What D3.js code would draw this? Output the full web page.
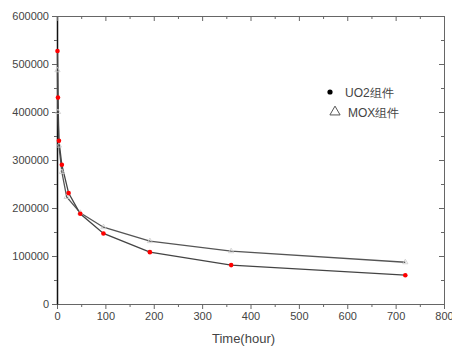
<!DOCTYPE html>
<html>
<head>
<meta charset="utf-8">
<script src="https://cdn.jsdelivr.net/npm/d3@7"></script>
<style>
  body { margin: 0; background: #fff; }
  svg text { font-family: "Liberation Sans", Arial, sans-serif; fill: #444; }
</style>
</head>
<body>
<div id="chart"></div>
<script>
// hours
var timesUO2 = [1, 2, 4, 10, 24, 48, 96, 192, 360, 720];
var valuesUO2 = [527000, 430000, 340000, 290000, 231000, 188000, 147000, 108000, 81000, 60000];
var timesMOX = [1, 2, 4, 10, 20, 48, 96, 192, 360, 720];
var valuesMOX = [487000, 400000, 330000, 275000, 223000, 190000, 160000, 131000, 110000, 87000];
var seriesNames = ["UO2组件", "MOX组件"];
var xTicks = [0, 100, 200, 300, 400, 500, 600, 700, 800];
var yTicks = [0, 100000, 200000, 300000, 400000, 500000, 600000];

var margin = {top: 16, right: 8, bottom: 46, left: 57},
    W = 452, H = 350,
    width = W - margin.left - margin.right,
    height = H - margin.top - margin.bottom;

var svg = d3.select("#chart").append("svg")
    .attr("width", W).attr("height", H)
  .append("g")
    .attr("transform", "translate(" + margin.left + "," + margin.top + ")");

var x = d3.scaleLinear().domain([0, 800]).range([0, width]);
var y = d3.scaleLinear().domain([0, 600000]).range([height, 0]);

var minorX = d3.range(50, 800, 100);
var minorY = d3.range(50000, 600000, 100000);
var fmt = d3.format("d");

function styleAxis(g) {
  g.select(".domain").attr("stroke", "#666");
  g.selectAll(".tick line").attr("stroke", "#666");
  g.selectAll("text").style("font-size", "11px").attr("fill", "#444");
}

// bottom
svg.append("g").attr("transform", "translate(0," + height + ")")
  .call(d3.axisBottom(x).tickValues(xTicks).tickFormat(fmt).tickSize(5).tickPadding(3).tickSizeOuter(0))
  .call(styleAxis);
svg.append("g").attr("transform", "translate(0," + height + ")")
  .call(d3.axisBottom(x).tickValues(minorX).tickSize(3).tickFormat(""))
  .call(styleAxis).select(".domain").remove();
// left
svg.append("g")
  .call(d3.axisLeft(y).tickValues(yTicks).tickFormat(fmt).tickSize(5).tickPadding(3).tickSizeOuter(0))
  .call(styleAxis)
  .select(".domain").attr("stroke", "#111").attr("stroke-width", 1.5);
svg.append("g")
  .call(d3.axisLeft(y).tickValues(minorY).tickSize(3).tickFormat(""))
  .call(styleAxis).select(".domain").remove();
// top (ticks inward)
svg.append("g")
  .call(d3.axisBottom(x).tickValues(xTicks).tickSize(5).tickFormat("").tickSizeOuter(0))
  .call(styleAxis);
svg.append("g")
  .call(d3.axisBottom(x).tickValues(minorX).tickSize(3).tickFormat(""))
  .call(styleAxis).select(".domain").remove();
// right (ticks inward)
svg.append("g").attr("transform", "translate(" + width + ",0)")
  .call(d3.axisLeft(y).tickValues(yTicks).tickSize(5).tickFormat("").tickSizeOuter(0))
  .call(styleAxis);
svg.append("g").attr("transform", "translate(" + width + ",0)")
  .call(d3.axisLeft(y).tickValues(minorY).tickSize(3).tickFormat(""))
  .call(styleAxis).select(".domain").remove();

// x title
svg.append("text")
  .attr("x", x(400) - 7).attr("y", height + 39)
  .style("text-anchor", "middle").style("font-size", "13px").attr("fill", "#333")
  .text("Time(hour)");

var uo2 = timesUO2.map(function(t, i){ return {t: t, v: valuesUO2[i]}; });
var mox = timesMOX.map(function(t, i){ return {t: t, v: valuesMOX[i]}; });

var line = d3.line()
  .x(function(d){ return x(d.t); })
  .y(function(d){ return y(d.v); });

svg.append("path").datum(mox)
  .attr("d", line).attr("fill", "none")
  .attr("stroke", "#555").attr("stroke-width", 1.3);
svg.append("path").datum(uo2)
  .attr("d", line).attr("fill", "none")
  .attr("stroke", "#444").attr("stroke-width", 1.3);

var tri = d3.symbol().type(d3.symbolTriangle).size(12);
svg.selectAll(".mox").data(mox).enter().append("path")
  .attr("class", "mox")
  .attr("transform", function(d){ return "translate(" + x(d.t) + "," + y(d.v) + ")"; })
  .attr("d", tri).attr("fill", "none").attr("stroke", "#ccc").attr("stroke-width", 0.8);

svg.selectAll(".uo2").data(uo2).enter().append("circle")
  .attr("class", "uo2")
  .attr("cx", function(d){ return x(d.t); })
  .attr("cy", function(d){ return y(d.v); })
  .attr("r", 2.3).attr("fill", "#f00");

// legend
var lg = svg.append("g").attr("transform", "translate(" + (330 - margin.left) + "," + (92 - margin.top) + ")");
lg.append("circle").attr("cx", 0).attr("cy", 0).attr("r", 2.6).attr("fill", "#000");
lg.append("text").attr("x", 15).attr("y", 5).style("font-size", "12px").attr("fill", "#333").text(seriesNames[0]);
lg.append("path").attr("transform", "translate(5,20)")
  .attr("d", d3.symbol().type(d3.symbolTriangle).size(45))
  .attr("fill", "none").attr("stroke", "#555").attr("stroke-width", 1);
lg.append("text").attr("x", 18).attr("y", 25).style("font-size", "12px").attr("fill", "#333").text(seriesNames[1]);
</script>
</body>
</html>
